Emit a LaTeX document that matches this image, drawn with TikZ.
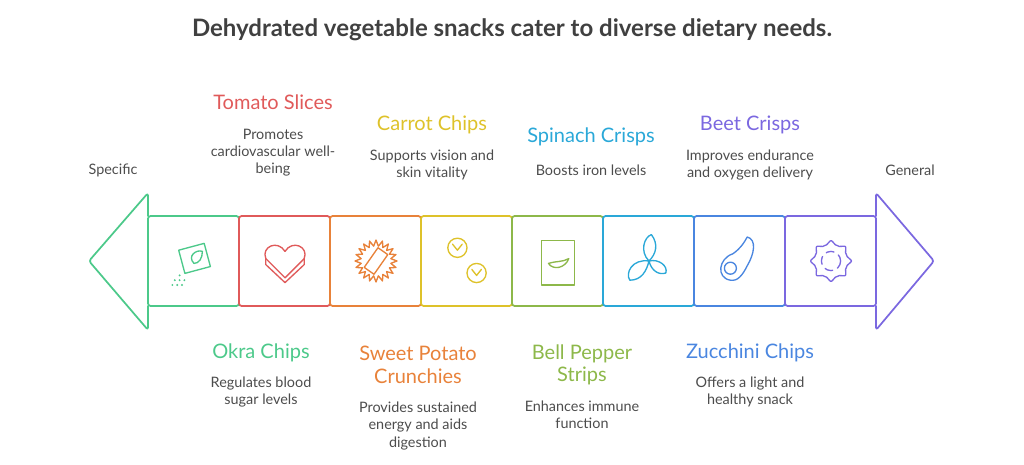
\documentclass[tikz,border=0pt]{standalone}
\usepackage{fontspec}
\setmainfont{Lato}
\begin{document}
\begin{tikzpicture}[x=0.75pt,y=-0.75pt,line join=round,line cap=round,
 box/.style={draw=#1,line width=1.3pt,rounded corners=2pt},
 ttl/.style={text=#1,font=\fontsize{15}{17}\selectfont,align=center},
 dsc/.style={text=black!70,font=\fontsize{10.8}{12.8}\selectfont,align=center},
 ic/.style={draw=#1,line width=1pt}]
\definecolor{cg}{HTML}{4CC98A}\definecolor{cr}{HTML}{E05A5A}\definecolor{co}{HTML}{E8823A}
\definecolor{cy}{HTML}{DEC22A}\definecolor{cl}{HTML}{8DB84A}\definecolor{cc}{HTML}{2AA8D8}
\definecolor{cb}{HTML}{4A86E0}\definecolor{cp}{HTML}{7B68E0}
\useasboundingbox (0,0) rectangle (1024,464);
\node[font=\bfseries\fontsize{18}{21}\selectfont,text=black!75] (title) at (512,30) {Dehydrated vegetable snacks cater to diverse dietary needs.};
% arrow heads
\draw[box=cg] (148,216) -- (148,193) -- (89,261) -- (148,330) -- (148,306);
\draw[box=cp] (876,216) -- (876,193) -- (934,261) -- (876,330) -- (876,306);
% boxes
\foreach \i/\c in {0/cg,1/cr,2/co,3/cy,4/cl,5/cc,6/cb,7/cp}{
  \draw[box=\c,fill=white] (148+\i*91,216) rectangle (239+\i*91,306);
}
% icons
\begin{scope}[shift={(194,261)},scale=1.2]
 \draw[ic=cg,rotate=15] (-10,-12) rectangle (12,8);
 \draw[ic=cg] (0,2) .. controls (-6,-4) and (2,-10) .. (7,-8) .. controls (7,-2) and (4,2) .. (0,2);
 \foreach \p in {(-12,12),(-16,16),(-12,16),(-8,16),(-14,20),(-10,20),(-18,20)} \fill[cg] \p circle (0.9);
\end{scope}
\begin{scope}[shift={(285,261)},scale=1.2]
 \draw[ic=cr] (0,-8) .. controls (-6,-18) and (-20,-12) .. (-16,-2) -- (0,14) -- (16,-2) .. controls (20,-12) and (6,-18) .. (0,-8);
 \draw[ic=cr] (-16,-2) -- (-16,3) -- (0,18) -- (16,3) -- (16,-2);
\end{scope}
\begin{scope}[shift={(376,261)},scale=1.2]
 \draw[ic=co] plot[samples=41,domain=0:360] (\x:{15+2.5*cos(20*\x)});
 \draw[ic=co,rotate=-35] (-5,-10) rectangle (5,10);
\end{scope}
\begin{scope}[shift={(467,261)},scale=1.2]
 \draw[ic=cy] (-8,-11) circle (8); \draw[ic=cy] (8,10) circle (8);
 \draw[ic=cy] (-12,-14) -- (-8,-9) -- (-4,-14); \draw[ic=cy] (4,7) -- (8,12) -- (12,7);
\end{scope}
\begin{scope}[shift={(558,261)},scale=1.2]
 \draw[ic=cl] (-14,-17) rectangle (14,20);
 \draw[ic=cl] (-8,2) .. controls (-4,8) and (6,6) .. (9,-2) .. controls (4,1) and (-2,0) .. (-8,2);
\end{scope}
\begin{scope}[shift={(649,261)},scale=1.2]
 \draw[ic=cc] (0,0) .. controls (-8,-8) and (-4,-20) .. (2,-22) .. controls (8,-14) and (6,-6) .. (0,0);
 \draw[ic=cc] (0,0) .. controls (-14,-2) and (-20,10) .. (-16,16) .. controls (-6,16) and (-2,8) .. (0,0);
 \draw[ic=cc] (0,0) .. controls (8,-2) and (16,4) .. (14,10) .. controls (8,12) and (2,8) .. (0,0);
\end{scope}
\begin{scope}[shift={(740,261)},scale=1.2]
 \draw[ic=cb] (-8,16) .. controls (-20,14) and (-18,-2) .. (-6,-6) .. controls (0,-10) and (4,-16) .. (6,-20) .. controls (14,-18) and (12,-6) .. (6,4) .. controls (2,12) and (-2,17) .. (-8,16);
 \draw[ic=cb] (-8,6) circle (5);
\end{scope}
\begin{scope}[shift={(831,261)},scale=1.2]
 \draw[ic=cp] plot[smooth cycle,samples=24,domain=0:345] (\x:{15+2*cos(8*\x)});
 \draw[ic=cp,dash pattern=on 6pt off 4pt] (0,0) circle (8);
\end{scope}
% side labels
\node[dsc] (spec) at (113,170) {Specific};
\node[dsc] (gen) at (910,170) {General};
% top labels
\node[ttl=cr] (t1) at (273,102) {Tomato Slices};
\node[dsc] (d1) at (273,153) {Promotes\\cardiovascular well-\\being};
\node[ttl=cy] (t2) at (432,125) {Carrot Chips};
\node[dsc] (d2) at (432,165) {Supports vision and\\skin vitality};
\node[ttl=cc] (t3) at (591,137) {Spinach Crisps};
\node[dsc] (d3) at (591,170) {Boosts iron levels};
\node[ttl=cp] (t4) at (750,125) {Beet Crisps};
\node[dsc] (d4) at (750,165) {Improves endurance\\and oxygen delivery};
% bottom labels
\node[ttl=cg] (b1) at (261,353) {Okra Chips};
\node[dsc] (e1) at (261,392) {Regulates blood\\sugar levels};
\node[ttl=co] (b2) at (418,365) {Sweet Potato\\Crunchies};
\node[dsc] (e2) at (418,426) {Provides sustained\\energy and aids\\digestion};
\node[ttl=cl] (b3) at (582,365) {Bell Pepper\\Strips};
\node[dsc] (e3) at (582,415) {Enhances immune\\function};
\node[ttl=cb] (b4) at (750,353) {Zucchini Chips};
\node[dsc] (e4) at (750,392) {Offers a light and\\healthy snack};
\end{tikzpicture}
\end{document}
